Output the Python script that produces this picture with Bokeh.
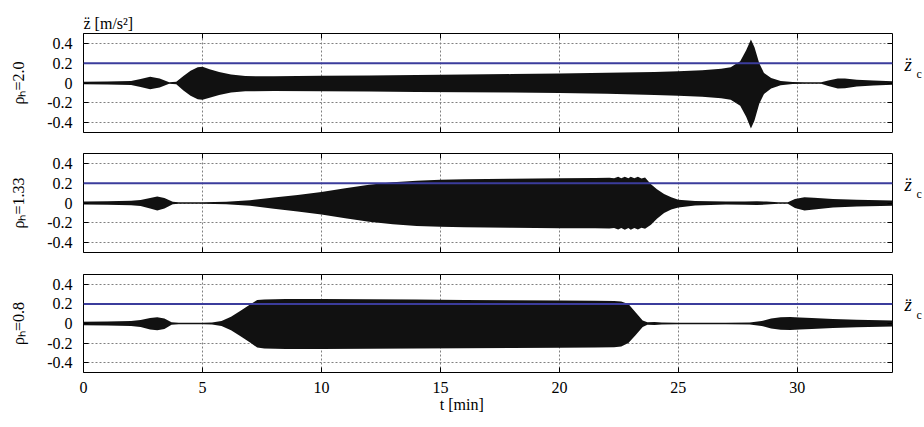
from bokeh.plotting import figure
from bokeh.models import Span, LinearAxis, FixedTicker, Range1d
from bokeh.layouts import column
from bokeh.embed import file_html
from bokeh.resources import INLINE

# ---------------- data (envelopes) ----------------
# panel 1: rho_h = 2.0
t_1 = [0, 1.0, 2.0, 2.4, 2.8, 3.2, 3.6, 3.9, 4.2, 4.5, 4.8, 5.0, 5.3, 5.7, 6.2, 6.8,
       8, 10, 12, 14, 16, 18, 20, 22, 24, 25, 26, 26.8, 27.2, 27.6, 27.85, 28.05,
       28.2, 28.4, 28.6, 28.9, 29.3, 29.8, 30.3, 31.0, 31.3, 31.7, 32.0, 32.5, 33.2, 34]
up_1 = [0.012, 0.015, 0.02, 0.04, 0.062, 0.045, 0.008, 0.012, 0.07, 0.125, 0.16, 0.165, 0.14, 0.11, 0.085, 0.07,
        0.068, 0.072, 0.076, 0.08, 0.085, 0.09, 0.095, 0.103, 0.112, 0.118, 0.13, 0.145, 0.16, 0.22, 0.33, 0.44,
        0.36, 0.2, 0.1, 0.05, 0.02, 0.01, 0.008, 0.008, 0.025, 0.045, 0.045, 0.032, 0.025, 0.018]
dn_1 = [0.012, 0.015, 0.02, 0.04, 0.064, 0.045, 0.008, 0.012, 0.075, 0.13, 0.165, 0.168, 0.15, 0.12, 0.095, 0.083,
        0.082, 0.084, 0.087, 0.09, 0.093, 0.097, 0.1, 0.108, 0.12, 0.128, 0.14, 0.155, 0.17, 0.23, 0.34, 0.46,
        0.38, 0.21, 0.11, 0.055, 0.022, 0.01, 0.008, 0.008, 0.03, 0.055, 0.052, 0.035, 0.025, 0.018]

# panel 2: rho_h = 1.33
t_2 = [0, 1, 2, 2.4, 2.8, 3.1, 3.4, 3.75, 4.0, 5.0, 6.0, 7.0, 8.0, 9.0, 10, 11, 12, 13, 14, 15, 16, 18, 20,
       21.5, 22.1, 22.3, 22.47, 22.6, 22.75, 22.9, 23.0, 23.15, 23.3, 23.45, 23.6, 23.85, 24.1, 24.4, 24.7, 25,
       25.7, 27, 27.8, 28.3, 28.7, 29.2, 29.6, 29.9, 30.3, 30.7, 31.5, 32.5, 34]
up_2 = [0.015, 0.018, 0.022, 0.03, 0.05, 0.065, 0.05, 0.012, 0.008, 0.008, 0.012, 0.028, 0.055, 0.082, 0.112,
        0.15, 0.185, 0.21, 0.225, 0.235, 0.24, 0.245, 0.25,
        0.252, 0.255, 0.25, 0.265, 0.25, 0.266, 0.25, 0.266, 0.25, 0.264, 0.248, 0.258, 0.19, 0.14, 0.09,
        0.057, 0.033, 0.02, 0.014, 0.016, 0.018, 0.014, 0.008, 0.008, 0.04, 0.058, 0.052, 0.04, 0.032, 0.025]
dn_2 = [0.015, 0.018, 0.022, 0.03, 0.055, 0.075, 0.055, 0.012, 0.008, 0.008, 0.012, 0.028, 0.057, 0.085, 0.115,
        0.155, 0.19, 0.215, 0.232, 0.24, 0.245, 0.25, 0.255,
        0.255, 0.258, 0.252, 0.268, 0.252, 0.27, 0.252, 0.27, 0.252, 0.268, 0.25, 0.26, 0.22, 0.16, 0.1,
        0.065, 0.045, 0.025, 0.016, 0.018, 0.02, 0.016, 0.008, 0.008, 0.05, 0.075, 0.065, 0.045, 0.035, 0.028]

# panel 3: rho_h = 0.8
t_3 = [0, 1, 2, 2.4, 2.8, 3.1, 3.4, 3.7, 4.0, 5.0, 5.4, 5.8, 6.2, 6.6, 7.0, 7.3, 7.6, 8.5, 10, 12, 14, 16,
       18, 20, 21.5, 22.3, 22.6, 22.9, 23.2, 23.5, 23.7, 24.0, 24.3, 25, 26, 27, 28, 28.5, 28.9, 29.3, 29.7,
       30.1, 30.6, 31.5, 32.5, 34]
up_3 = [0.018, 0.02, 0.025, 0.035, 0.055, 0.065, 0.05, 0.012, 0.008, 0.008, 0.01, 0.025, 0.07, 0.13, 0.195,
        0.24, 0.245, 0.25, 0.25, 0.248, 0.245, 0.24, 0.238, 0.235, 0.232, 0.23, 0.225, 0.2, 0.115, 0.03,
        0.012, 0.015, 0.01, 0.008, 0.008, 0.008, 0.01, 0.025, 0.05, 0.065, 0.066, 0.062, 0.055, 0.047, 0.038, 0.03]
dn_3 = [0.018, 0.02, 0.025, 0.035, 0.06, 0.07, 0.055, 0.012, 0.008, 0.008, 0.01, 0.025, 0.07, 0.13, 0.195,
        0.245, 0.255, 0.26, 0.26, 0.258, 0.255, 0.252, 0.25, 0.248, 0.245, 0.242, 0.235, 0.2, 0.12, 0.035,
        0.012, 0.015, 0.01, 0.008, 0.008, 0.008, 0.01, 0.025, 0.05, 0.065, 0.066, 0.062, 0.055, 0.047, 0.038, 0.03]

threshold = 0.2
x_ticks = [0, 5, 10, 15, 20, 25, 30]
y_ticks = [-0.4, -0.2, 0, 0.2, 0.4]
y_tick_labels = ["-0.4", "-0.2", "0", "0.2", "0.4"]
panel_labels = ["\u03c1\u2095=2.0", "\u03c1\u2095=1.33", "\u03c1\u2095=0.8"]
y_title = "z\u0308 [m/s\u00b2]"
x_title = "t [min]"
thr_title = ("z\u0308", "c")

FONT = "Liberation Serif"
SIG = "#111111"
BLUE = "#3b3c9c"


def hidden_axis(ticker):
    return LinearAxis(ticker=ticker, major_tick_in=5, major_tick_out=0, minor_tick_line_color=None,
                      axis_line_color=None, major_label_text_color=None,
                      major_label_text_font_size="10px", major_label_standoff=0)


def label_axis(pos, text, size, style, standoff):
    return LinearAxis(ticker=FixedTicker(ticks=[pos]), major_label_overrides={pos: text},
                      major_tick_in=0, major_tick_out=0, major_tick_line_color=None,
                      minor_tick_line_color=None, axis_line_color=None,
                      major_label_text_font=FONT, major_label_text_font_size=size,
                      major_label_text_font_style=style, major_label_text_color="black",
                      major_label_standoff=standoff)


def make_panel(t, up, dn, label, height, top, bottom, show_x):
    p = figure(width=924, height=height, x_range=Range1d(0, 34), y_range=Range1d(-0.5, 0.5),
               output_backend="svg", toolbar_location=None,
               min_border_left=83, min_border_right=28, min_border_top=top, min_border_bottom=bottom)
    p.background_fill_color = "white"
    p.border_fill_color = "white"
    p.outline_line_color = "black"
    p.outline_line_width = 1

    p.varea(x=t, y1=[-d for d in dn], y2=up, color=SIG)

    xt = FixedTicker(ticks=x_ticks)
    yt = FixedTicker(ticks=y_ticks)
    p.xaxis.ticker = xt
    p.yaxis.ticker = yt
    for ax in p.xaxis + p.yaxis:
        ax.major_tick_in = 5
        ax.major_tick_out = 0
        ax.minor_tick_line_color = None
        ax.axis_line_color = None
        ax.major_tick_line_color = "black"
        ax.major_label_text_font = FONT
        ax.major_label_text_font_size = "16px"
        ax.major_label_text_color = "black"
    p.yaxis.major_label_overrides = {v: s for v, s in zip(y_ticks, y_tick_labels)}
    p.yaxis.major_label_standoff = 11
    p.yaxis.axis_label = label
    p.yaxis.axis_label_text_font = FONT
    p.yaxis.axis_label_text_font_size = "16px"
    p.yaxis.axis_label_text_font_style = "normal"
    p.yaxis.axis_label_text_color = "black"
    p.yaxis.axis_label_standoff = 17
    if show_x:
        p.xaxis.major_label_standoff = 9
    else:
        p.xaxis.major_label_text_color = None
        p.xaxis.major_label_text_font_size = "10px"
        p.xaxis.major_label_standoff = 0

    p.add_layout(hidden_axis(xt), "above")
    p.add_layout(hidden_axis(yt), "right")
    # threshold name on the right: z-double-dot with subscript c
    p.add_layout(label_axis(threshold - 0.01, thr_title[0], "19px", "italic", 12), "right")
    p.add_layout(label_axis(threshold - 0.11, thr_title[1], "12px", "normal", 2), "right")

    p.xgrid.ticker = xt
    p.ygrid.ticker = yt
    p.grid.grid_line_color = "#808080"
    p.grid.grid_line_dash = "2 2"
    p.grid.grid_line_width = 1

    p.add_layout(Span(location=threshold, dimension="width", line_color=BLUE, line_width=2))
    return p


p1 = make_panel(t_1, up_1, dn_1, panel_labels[0], 142, 33, 10, False)
p2 = make_panel(t_2, up_2, dn_2, panel_labels[1], 120, 11, 10, False)
p3 = make_panel(t_3, up_3, dn_3, panel_labels[2], 165, 12, 55, True)

p1.title.text = y_title
p1.title.align = "left"
p1.title.offset = 0
p1.title.standoff = 4
p1.title.text_font = FONT
p1.title.text_font_size = "16px"
p1.title.text_font_style = "normal"
p1.title.text_color = "black"

# x axis title, centred a little left of the middle as in the original
p3.add_layout(label_axis(15.9, x_title, "16px", "normal", 0), "below")

layout = column(p1, p2, p3, spacing=0)
open("out.html", "w").write(file_html(layout, INLINE))
